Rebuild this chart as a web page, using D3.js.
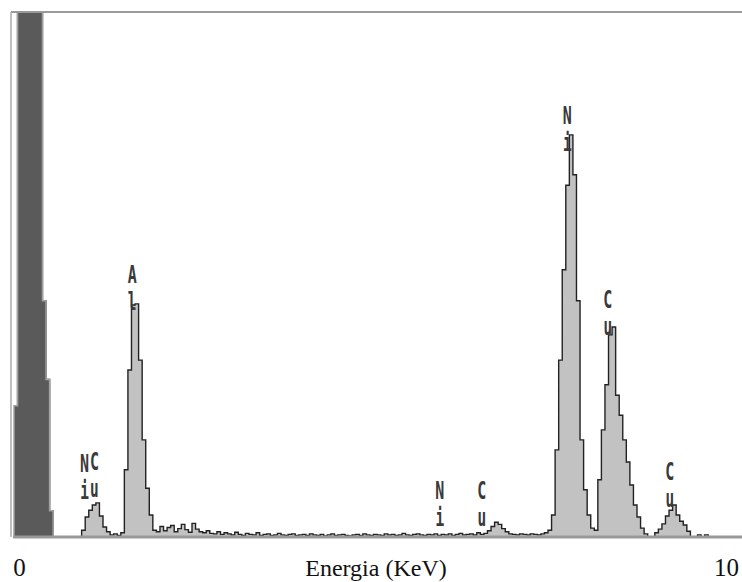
<!DOCTYPE html>
<html>
<head>
<meta charset="utf-8" />
<title>EDS spectrum</title>
<script src="https://d3js.org/d3.v7.min.js"></script>
<style>
  body { margin: 0; background: #fff; }
</style>
</head>
<body>
<svg id="chart"></svg>
<script>
  // channel width of the spectrum, keV
  var channelWidth = 0.05;

  // counts per channel (relative, 0-100 = full frame height)
  var counts = [
    // zero (noise) peak
    25, 200, 200, 200, 200, 200, 200, 200, 45, 30, 5,
    0, 0, 0, 0, 0, 0, 0, 0,
    // Ni L / Cu L
    1.3, 3.8, 5.1, 6.1, 6.5, 4.0, 1.9, 1.0, 0.4, 0.6, 0.3, 0.8,
    // Al K
    12.8, 31.8, 44.2, 44.4, 33.7, 18.5, 9.3, 4.2, 1.3,
    // background
    1.0, 2.0, 1.2, 1.8, 2.2, 1.0, 1.6, 2.4, 1.4, 0.9, 2.6, 1.5, 1.0, 0.8, 1.2, 0.7, 0.6, 1.0, 0.5, 0.8,
    0.6, 0.4, 0.9, 0.5, 0.3, 0.7, 0.5, 0.4, 0.8, 0.3, 0.5, 0.6, 0.3, 0.4, 0.7, 0.4, 0.3, 0.5, 0.6, 0.3,
    0.4, 0.5, 0.3, 0.6, 0.4, 0.3, 0.5, 0.2, 0.4, 0.6, 0.3, 0.4, 0.5, 0.3, 0.2, 0.4, 0.5, 0.3, 0.6, 0.4,
    0.3, 0.5, 0.4, 0.3, 0.6, 0.4, 0.5, 0.3, 0.4, 0.7, 0.4, 0.3, 0.5, 0.6, 0.4, 0.3, 0.5, 0.4, 0.6, 0.3,
    0.5, 0.4, 0.6, 0.3, 0.5, 0.7, 0.4, 0.5, 0.6, 0.4, 0.8, 0.5, 0.7,
    // small Cu bump
    1.2, 2.0, 2.8, 2.4, 1.6, 1.0, 0.6,
    0.5, 0.4, 0.6, 0.5, 0.4, 0.6, 0.5, 0.4, 0.6, 0.8,
    // Ni K alpha
    1.3, 4.2, 16.6, 33.7, 50.9, 67, 76.6, 69, 45, 18.5, 9, 4.2, 1.7, 1.3,
    // Cu K alpha
    10.9, 20.4, 29, 38.5, 40, 27, 23.2, 18.5, 14.3, 9.9, 6.1, 3.8, 1.7, 0.6, 0, 0,
    // Cu K beta
    0.8, 1.5, 2.5, 4, 5.1, 6.1, 4.2, 3, 2.3, 1.1, 0, 0, 0.4, 0, 0.4,
    0, 0, 0, 0, 0, 0, 0, 0, 0, 0
  ];
  var zeroPeakChannels = 11;

  // peak labels (element symbols printed vertically)
  var labelNames = ["Ni", "Cu", "Al", "Ni", "Cu", "Ni", "Cu", "Cu"];
  var labelEnergy = [0.99, 1.13, 1.66, 5.98, 6.57, 7.77, 8.34, 9.21];
  var labelCounts = [13.9, 14.2, 49.9, 8.8, 8.8, 80.2, 45.1, 12.4];

  var tickValues = [0, 10];
  var tickLabels = ["0", "10"];
  var axisTitle = "Energia (KeV)";

  var width = 742, height = 582;
  var plot = { left: 11, right: 742, top: 12, bottom: 537 };

  var svg = d3.select("#chart")
    .attr("width", width)
    .attr("height", height);

  var x = d3.scaleLinear().domain([0, 10]).range([14, 726]);
  var y = d3.scaleLinear().domain([0, 100]).range([plot.bottom, plot.top]);

  var data = counts.map(function(c, i) { return { e: i * channelWidth, c: c }; });
  data.push({ e: counts.length * channelWidth, c: counts[counts.length - 1] });

  svg.append("defs").append("clipPath").attr("id", "clip")
    .append("rect")
    .attr("x", plot.left).attr("y", plot.top + 1)
    .attr("width", plot.right - plot.left).attr("height", plot.bottom - plot.top);

  var area = d3.area()
    .curve(d3.curveStepAfter)
    .x(function(d) { return x(d.e); })
    .y0(y(0))
    .y1(function(d) { return y(d.c); });

  var line = d3.line()
    .curve(d3.curveStepAfter)
    .x(function(d) { return x(d.e); })
    .y(function(d) { return y(d.c); });

  var g = svg.append("g").attr("clip-path", "url(#clip)");

  g.append("path")
    .datum(data)
    .attr("d", area)
    .attr("fill", "#c2c2c2");

  g.append("path")
    .datum(data)
    .attr("d", line)
    .attr("fill", "none")
    .attr("stroke", "#222")
    .attr("stroke-width", 1.4);

  // zero peak is drawn dark
  var zero = data.slice(0, zeroPeakChannels + 1);
  g.append("path")
    .datum(zero)
    .attr("d", area)
    .attr("fill", "#5a5a5a")
    .attr("stroke", "#a0a0a0")
    .attr("stroke-width", 1.5);

  // frame
  svg.append("line")
    .attr("x1", plot.left).attr("x2", plot.right)
    .attr("y1", plot.top).attr("y2", plot.top)
    .attr("stroke", "#9a9a9a").attr("stroke-width", 2);
  svg.append("line")
    .attr("x1", plot.left).attr("x2", plot.left)
    .attr("y1", plot.top).attr("y2", plot.bottom)
    .attr("stroke", "#aaa").attr("stroke-width", 1.5);
  svg.append("line")
    .attr("x1", 13).attr("x2", plot.right)
    .attr("y1", plot.bottom).attr("y2", plot.bottom)
    .attr("stroke", "#999").attr("stroke-width", 3);

  // element labels
  var labels = svg.append("g").selectAll("g")
    .data(labelNames)
    .enter().append("g")
    .attr("transform", function(d, i) {
      return "translate(" + x(labelEnergy[i]) + "," + y(labelCounts[i]) + ")";
    });

  labels.each(function(d) {
    var sel = d3.select(this);
    sel.append("text")
      .attr("transform", "scale(0.6,1)")
      .attr("y", 8)
      .attr("text-anchor", "middle")
      .attr("font-family", "DejaVu Sans Mono")
      .attr("font-weight", "bold")
      .attr("font-size", "25px")
      .attr("fill", "#3a3a3a")
      .text(d.charAt(0));
    sel.append("text")
      .attr("transform", "scale(0.6,1)")
      .attr("y", 35)
      .attr("text-anchor", "middle")
      .attr("font-family", "DejaVu Sans Mono")
      .attr("font-weight", "bold")
      .attr("font-size", "24px")
      .attr("fill", "#3a3a3a")
      .text(d.charAt(1));
  });

  // axis labels
  var xAxis = d3.axisBottom(x)
    .tickValues(tickValues)
    .tickSize(0)
    .tickPadding(0)
    .tickFormat(function(d, i) { return tickLabels[i]; });

  var ax = svg.append("g")
    .attr("transform", "translate(0,558)")
    .call(xAxis);
  ax.select(".domain").remove();
  ax.selectAll("text")
    .attr("font-family", "Liberation Serif")
    .attr("font-size", "25px")
    .attr("fill", "#111")
    .attr("dy", "0.7em");
  ax.selectAll(".tick").filter(function(d) { return d === 0; })
    .select("text").attr("dx", 5);

  svg.append("text")
    .attr("x", 376)
    .attr("y", 576)
    .attr("text-anchor", "middle")
    .attr("font-family", "Liberation Serif")
    .attr("font-size", "24px")
    .attr("fill", "#111")
    .text(axisTitle);
</script>
</body>
</html>
